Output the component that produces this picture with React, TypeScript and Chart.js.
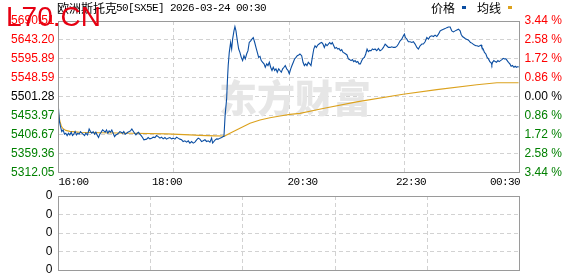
import React, { useEffect, useRef } from 'react';
import { Chart, registerables } from 'chart.js';
Chart.register(...registerables);

// ---- data (x = session slot 0..480, y = index price) ----
const priceTimes: number[] = [
  0, 1.0, 2.1, 3.4, 4.8, 6.2, 7.6, 9.0, 10.4, 11.8, 13.2, 14.6, 15.9, 17.3, 18.8, 20.1, 21.5, 22.9, 24.3, 25.6,
  27.1, 28.4, 30.2, 31.9, 33.3, 34.7, 36.1, 37.5, 38.9, 40.2, 41.7, 43.0, 44.4, 45.9, 47.2, 48.6, 50.0, 51.4, 52.7, 54.2,
  55.5, 56.9, 58.4, 59.7, 61.1, 62.5, 63.9, 65.2, 66.7, 68.0, 69.4, 70.9, 72.2, 73.6, 75.0, 76.4, 77.7, 79.2, 80.6, 81.9,
  83.4, 84.7, 86.1, 87.5, 88.9,
  91.7, 93.4, 95.1, 96.9, 98.6, 100.4, 102.1, 103.8, 105.6, 107.3, 109.0, 110.8, 112.5, 114.2, 116.0, 117.8, 119.4, 121.2, 123.0, 124.6,
  126.4, 128.2, 129.8, 131.6, 133.4, 135.1, 136.8, 138.6, 140.3, 142.0, 143.8, 145.5, 147.2, 149.0, 150.7, 152.5, 154.2, 155.9, 157.7, 159.4,
  160.5, 161.8, 163.2, 164.7, 166.3, 168.1, 169.9, 171.5,
  172.3, 173.5, 175.1, 175.8, 176.7, 177.8, 179.2, 180.3, 181.3, 182.7, 183.7, 184.8, 185.5, 186.5, 187.6, 188.9, 190.3, 191.7, 193.1, 194.5,
  195.9, 197.3, 198.6, 200.1, 201.4, 202.8, 204.3, 205.6, 207.0, 208.4, 209.8, 211.1, 212.6, 214.0, 215.3, 216.8, 218.1, 219.5, 220.9, 222.3,
  223.6, 225.1, 226.4, 227.8, 229.3, 230.6, 232.0, 233.4, 234.8, 236.1, 237.6, 239.0, 240.3, 241.8, 243.1, 244.5, 245.9, 247.3, 248.6, 250.1,
  251.4,
  253.2, 254.6, 256.0, 257.4, 258.7, 260.1, 261.6, 262.9, 264.3, 265.8, 267.1, 268.5, 269.9, 271.3, 272.6, 274.1, 275.4, 276.8, 278.2, 279.6,
  281.0, 282.4, 283.8, 285.1, 286.6, 287.9, 289.3, 290.8, 292.1, 293.5, 294.9, 296.3, 297.6, 299.1, 300.4, 301.8, 303.3, 304.6, 306.0, 307.4,
  308.8, 310.1, 311.6, 312.9, 314.3, 315.8, 317.1, 318.5, 319.9, 321.3, 322.6, 324.1, 325.5, 326.8, 328.3, 329.6,
  331.4, 333.1, 334.8, 336.6, 338.3, 340.1, 341.8, 343.5, 345.3, 347.0, 348.7, 350.5, 352.2, 353.9, 355.7, 357.4, 359.1, 360.2, 361.2, 362.7,
  364.3, 366.1, 367.9, 369.5, 371.3, 373.1, 374.7, 376.5, 378.3, 379.9, 381.7, 383.5, 385.2, 386.9, 388.7, 390.4, 392.1, 393.9, 395.6, 397.4,
  399.1, 400.8, 402.6, 404.3, 406.0, 407.8,
  409.5, 411.2, 413.0, 414.8, 416.4, 418.2, 419.2, 420.6, 422.1, 423.4, 424.8, 426.2, 427.6, 429.0, 430.4, 431.7, 433.1, 434.6, 435.9, 437.3,
  438.7, 440.1, 440.8, 442.2, 443.5, 445.0, 446.3, 447.7, 449.1, 450.5, 451.2, 451.9, 453.3, 454.7, 456.0, 457.5, 458.8, 460.2, 461.7, 463.0,
  464.4, 465.9, 467.2, 468.5, 470.0, 471.3, 472.7, 474.2, 475.5, 476.9, 478.4, 479.0,
];
const priceValues: number[] = [
  5472.1, 5438.9, 5426.6, 5414.2, 5418.4, 5407.8, 5410.2, 5404.3, 5410.2, 5406.0, 5412.7, 5404.3, 5407.8, 5414.2, 5406.0, 5410.2, 5407.8, 5414.2, 5410.2, 5407.8,
  5404.3, 5410.2, 5406.0, 5420.9, 5414.2, 5410.2, 5414.2, 5407.8, 5412.7, 5406.0, 5399.4, 5407.8, 5412.7, 5418.4, 5415.9, 5412.7, 5418.4, 5410.2, 5415.9, 5412.7,
  5418.4, 5410.2, 5401.8, 5406.0, 5407.8, 5410.2, 5414.2, 5412.7, 5410.2, 5414.2, 5407.8, 5410.2, 5412.7, 5414.2, 5415.9, 5420.9, 5415.9, 5410.2, 5406.0, 5410.2,
  5412.7, 5407.8, 5404.3, 5399.4, 5393.7,
  5395.4, 5399.4, 5396.1, 5397.9, 5400.3, 5399.4, 5404.3, 5401.8, 5397.9, 5400.3, 5396.1, 5399.4, 5395.4, 5397.9, 5399.4, 5396.1, 5397.9, 5395.4, 5400.3, 5397.9,
  5395.4, 5393.7, 5389.5, 5391.2, 5388.0, 5391.2, 5385.5, 5389.5, 5385.5, 5388.0, 5393.7, 5397.9, 5395.4, 5389.5, 5391.2, 5393.7, 5389.5, 5391.2, 5388.0, 5397.9,
  5385.5, 5389.5, 5393.7, 5396.1, 5395.4, 5397.9, 5399.4, 5401.8,
  5403.0, 5455.5, 5496.8, 5537.9, 5579.2, 5612.1, 5636.8, 5620.5, 5645.2, 5665.8, 5676.4, 5665.8, 5653.4, 5636.8, 5620.5, 5612.1, 5599.7, 5591.6, 5603.9, 5595.8,
  5608.1, 5616.3, 5636.8, 5641.0, 5645.2, 5649.2, 5636.8, 5624.5, 5612.1, 5599.7, 5602.2, 5591.6, 5587.3, 5583.4, 5575.0, 5583.4, 5579.2, 5587.3, 5575.0, 5566.8,
  5575.0, 5566.8, 5571.0, 5562.6, 5571.0, 5566.8, 5562.6, 5571.0, 5575.0, 5579.2, 5571.0, 5566.8, 5558.7, 5571.0, 5579.2, 5587.3, 5595.8, 5599.7, 5603.9, 5605.7,
  5608.1,
  5603.9, 5587.3, 5579.2, 5583.4, 5579.2, 5587.3, 5583.4, 5579.2, 5599.7, 5620.5, 5628.7, 5624.5, 5630.4, 5632.9, 5635.3, 5636.8, 5632.9, 5624.5, 5632.9, 5628.7,
  5632.9, 5636.8, 5632.9, 5636.8, 5628.7, 5622.0, 5624.5, 5620.5, 5622.0, 5616.3, 5618.8, 5612.1, 5610.6, 5608.1, 5605.7, 5595.8, 5594.0, 5591.6, 5594.0, 5589.1,
  5591.6, 5587.3, 5589.1, 5583.4, 5583.4, 5591.6, 5597.2, 5599.7, 5608.1, 5620.5, 5613.8, 5617.0, 5616.3, 5620.5, 5618.8, 5620.5,
  5616.3, 5622.0, 5616.3, 5618.8, 5624.5, 5632.9, 5628.7, 5624.5, 5624.5, 5626.2, 5624.5, 5624.5, 5626.9, 5632.9, 5641.0, 5645.2, 5653.4, 5657.6, 5649.2, 5645.2,
  5638.6, 5638.6, 5636.8, 5638.6, 5632.9, 5624.5, 5620.5, 5628.7, 5632.9, 5632.9, 5638.6, 5649.2, 5645.2, 5651.7, 5653.4, 5651.7, 5655.1, 5651.7, 5657.6, 5665.8,
  5668.2, 5670.0, 5671.5, 5673.9, 5675.7, 5675.7,
  5665.8, 5663.3, 5665.8, 5668.2, 5670.0, 5665.8, 5657.6, 5651.7, 5649.2, 5646.7, 5645.2, 5643.5, 5641.0, 5636.8, 5635.3, 5632.9, 5630.4, 5628.7, 5628.7, 5626.9,
  5628.7, 5630.4, 5624.5, 5620.5, 5612.1, 5608.1, 5599.7, 5595.8, 5589.1, 5585.9, 5580.9, 5587.3, 5591.6, 5589.1, 5587.3, 5591.6, 5589.1, 5591.6, 5594.0, 5597.2,
  5595.8, 5595.8, 5591.6, 5587.3, 5583.4, 5577.5, 5579.2, 5575.0, 5577.5, 5575.0, 5576.7, 5575.0,
];
const avgTimes: number[] = [
  0, 1.4, 2.9, 4.5, 7.6, 11.8, 22.2, 43.0, 77.4, 112.9, 136.8, 147.2, 162.9, 171.2, 173.3,
  178.5, 188.9, 199.4, 209.8, 220.2, 230.6, 241.0, 251.4, 275.4, 310.5, 358.8, 393.9, 435.6, 456.4, 479.0,
];
const avgValues: number[] = [
  5460.4, 5440.7, 5428.3, 5422.1, 5417.2, 5414.7, 5412.7, 5411.5, 5410.2, 5408.5, 5406.0, 5404.8, 5403.6, 5403.1, 5403.6,
  5410.2, 5422.6, 5434.9, 5443.1, 5448.8, 5453.0, 5457.2, 5459.7, 5472.1, 5488.4, 5507.4, 5519.1, 5531.4, 5536.4, 5536.4,
];
const prevClose = 5501.28;
const priceTicks = [5312.05, 5359.36, 5406.67, 5453.97, 5501.28, 5548.59, 5595.89, 5643.2, 5690.51];
const pctTicks = [-3.44, -2.58, -1.72, -0.86, 0, 0.86, 1.72, 2.58, 3.44];
const xGridPositions = [0, 120, 240, 360, 480];
const xLabelPositions = [0, 112.9, 254.1, 367.1, 480];
const xLabels = ['16:00', '18:00', '20:30', '22:30', '00:30'];
const volTicks = [0, 1, 2, 3, 4];
const volTickLabels = ['0', '0', '0', '0', '0'];
const volumeTimes: number[] = [];
const volumeValues: number[] = [];

const titleCn = '欧洲斯托克';
const titleRest = '50[SX5E] 2026-03-24 00:30';
const legendLabels = ['价格', '均线'];

const BLUE = '#0b4ea2';
const ORANGE = '#dca21e';
const GRID = '#d2d2d2';
const FRAME = '#9a9a9a';
const SANS = '"Liberation Sans", Arial, sans-serif';
const CJK = '"Noto Sans CJK SC", sans-serif';
const MONO = '"Liberation Mono", monospace';

function drawFrame(chart: any) {
  const { ctx, chartArea: a } = chart;
  const l = Math.floor(a.left), t = Math.floor(a.top), r = Math.floor(a.right), b = Math.floor(a.bottom);
  ctx.save();
  ctx.strokeStyle = FRAME;
  ctx.lineWidth = 1;
  ctx.strokeRect(l + 0.5, t + 0.5, r - l, b - t);
  ctx.restore();
}

const mainPlugin = {
  id: 'mainOverlay',
  beforeDatasetsDraw(chart: any) {
    const { ctx } = chart;
    ctx.save();
    ctx.font = '900 38px ' + CJK;
    ctx.fillStyle = '#e6e6e6';
    ctx.textBaseline = 'middle';
    ctx.fillText('东方财富', 219, 98);
    ctx.restore();
  },
  afterDraw(chart: any) {
    const { ctx, chartArea } = chart;
    drawFrame(chart);
    const xs = chart.scales.x;
    ctx.save();
    // x labels
    ctx.font = '11px ' + MONO;
    (ctx as any).letterSpacing = '-0.6px';
    ctx.fillStyle = '#000';
    ctx.textBaseline = 'middle';
    xLabels.forEach((lab, i) => {
      const px = xs.getPixelForValue(xLabelPositions[i]);
      ctx.textAlign = i === 0 ? 'left' : i === xLabels.length - 1 ? 'right' : 'center';
      ctx.fillText(lab, i === xLabels.length - 1 ? px + 0.6 : px, chartArea.bottom + 10);
    });
    // title
    ctx.textAlign = 'left';
    (ctx as any).letterSpacing = '0px';
    ctx.font = '12px ' + CJK;
    ctx.fillText(titleCn, 57, 8.5);
    ctx.font = '11px ' + MONO;
    (ctx as any).letterSpacing = '-0.6px';
    ctx.fillText(titleRest, 116, 8.5);
    // legend
    (ctx as any).letterSpacing = '0px';
    ctx.font = '12px ' + CJK;
    ctx.fillText(legendLabels[0], 431, 8.5);
    ctx.fillText(legendLabels[1], 477, 8.5);
    ctx.fillStyle = BLUE;
    ctx.fillRect(462, 6, 4, 3);
    ctx.fillStyle = ORANGE;
    ctx.fillRect(508, 6, 4, 3);
    // site watermark
    ctx.font = '28px ' + SANS;
    ctx.fillStyle = '#e60012';
    ctx.textBaseline = 'alphabetic';
    ctx.fillText('L70.CN', 6, 26);
    ctx.restore();
  },
};

const volPlugin = {
  id: 'volOverlay',
  afterDraw(chart: any) {
    drawFrame(chart);
  },
};

const priceColor = (v: number) => (v > prevClose + 0.005 ? '#ff0000' : v < prevClose - 0.005 ? '#008000' : '#000000');
const pctColor = (v: number) => (v > 0.001 ? '#ff0000' : v < -0.001 ? '#008000' : '#000000');

export default function App() {
  const mainRef = useRef<HTMLCanvasElement | null>(null);
  const volRef = useRef<HTMLCanvasElement | null>(null);

  useEffect(() => {
    if (!mainRef.current || !volRef.current) return;
    const n = Math.min(priceTimes.length, priceValues.length);
    const priceData = priceTimes.slice(0, n).map((x, i) => ({ x, y: priceValues[i] }));
    const m = Math.min(avgTimes.length, avgValues.length);
    const avgData = avgTimes.slice(0, m).map((x, i) => ({ x, y: avgValues[i] }));

    const main = new Chart(mainRef.current, {
      type: 'line',
      data: {
        datasets: [
          { label: legendLabels[0], data: priceData, borderColor: BLUE, borderWidth: 1.1, pointRadius: 0, tension: 0, yAxisID: 'y' },
          { label: legendLabels[1], data: avgData, borderColor: ORANGE, borderWidth: 1.1, pointRadius: 0, tension: 0, yAxisID: 'y' },
        ],
      },
      options: {
        animation: false,
        responsive: false,
        events: [],
        layout: { padding: { top: 21, left: 0, right: 0, bottom: 0 } },
        plugins: { legend: { display: false }, tooltip: { enabled: false }, title: { display: false } },
        scales: {
          x: {
            type: 'linear',
            min: 0,
            max: 480,
            afterBuildTicks: (s: any) => { s.ticks = xGridPositions.map((v) => ({ value: v })); },
            ticks: { display: false, autoSkip: false },
            grid: { color: GRID, drawTicks: false, lineWidth: 1 },
            border: { display: false, dash: [4, 3] },
            afterFit: (s: any) => { s.height = 22.5; },
          },
          y: {
            position: 'left',
            min: priceTicks[0],
            max: priceTicks[priceTicks.length - 1],
            afterBuildTicks: (s: any) => { s.ticks = priceTicks.map((v) => ({ value: v })); },
            ticks: {
              autoSkip: false,
              padding: 4,
              font: { family: SANS, size: 12 },
              color: (c: any) => priceColor(c.tick.value),
              callback: (v: any) => Number(v).toFixed(2),
            },
            grid: { color: GRID, drawTicks: false, lineWidth: 1 },
            border: { display: false, dash: [4, 3] },
            afterFit: (s: any) => { s.width = 58.5; s.paddingTop = 0; s.paddingBottom = 0; },
          },
          y2: {
            position: 'right',
            min: pctTicks[0],
            max: pctTicks[pctTicks.length - 1],
            afterBuildTicks: (s: any) => { s.ticks = pctTicks.map((v) => ({ value: v })); },
            ticks: {
              autoSkip: false,
              padding: 5,
              font: { family: SANS, size: 12 },
              color: (c: any) => pctColor(c.tick.value),
              callback: (v: any) => Math.abs(Number(v)).toFixed(2) + ' %',
            },
            grid: { display: false, drawTicks: false },
            border: { display: false },
            afterFit: (s: any) => { s.width = 58.5; s.paddingTop = 0; s.paddingBottom = 0; },
          },
        },
      },
      plugins: [mainPlugin],
    } as any);

    const vn = Math.min(volumeTimes.length, volumeValues.length);
    const vol = new Chart(volRef.current, {
      type: 'bar',
      data: {
        datasets: [
          { label: '成交量', data: volumeTimes.slice(0, vn).map((x, i) => ({ x, y: volumeValues[i] })), backgroundColor: BLUE },
        ],
      },
      options: {
        animation: false,
        responsive: false,
        events: [],
        layout: { padding: { top: 10, left: 0, right: 58.5, bottom: 0 } },
        plugins: { legend: { display: false }, tooltip: { enabled: false } },
        scales: {
          x: {
            type: 'linear',
            min: 0,
            max: 480,
            afterBuildTicks: (s: any) => { s.ticks = xGridPositions.map((v) => ({ value: v })); },
            ticks: { display: false, autoSkip: false },
            grid: { color: GRID, drawTicks: false, lineWidth: 1 },
            border: { display: false, dash: [4, 3] },
            afterFit: (s: any) => { s.height = 6; s.paddingLeft = 0; s.paddingRight = 0; },
          },
          y: {
            position: 'left',
            min: volTicks[0],
            max: volTicks[volTicks.length - 1],
            afterBuildTicks: (s: any) => { s.ticks = volTicks.map((v) => ({ value: v })); },
            ticks: {
              autoSkip: false,
              padding: 6,
              font: { family: SANS, size: 12, lineHeight: 1 },
              color: '#000',
              callback: (_v: any, i: number) => volTickLabels[i],
            },
            grid: { color: GRID, drawTicks: false, lineWidth: 1 },
            border: { display: false, dash: [4, 3] },
            afterFit: (s: any) => { s.width = 58.5; s.paddingTop = 0; s.paddingBottom = 0; },
          },
        },
      },
      plugins: [volPlugin],
    } as any);

    return () => {
      main.destroy();
      vol.destroy();
    };
  }, []);

  return (
    <div style={{ position: 'absolute', left: 0, top: 0, width: 578, height: 276, overflow: 'hidden', background: '#fff' }}>
      <canvas ref={mainRef} width={578} height={195} style={{ position: 'absolute', left: 0, top: 0, width: 578, height: 195 }} />
      <canvas ref={volRef} width={578} height={90} style={{ position: 'absolute', left: 0, top: 186, width: 578, height: 90 }} />
    </div>
  );
}
